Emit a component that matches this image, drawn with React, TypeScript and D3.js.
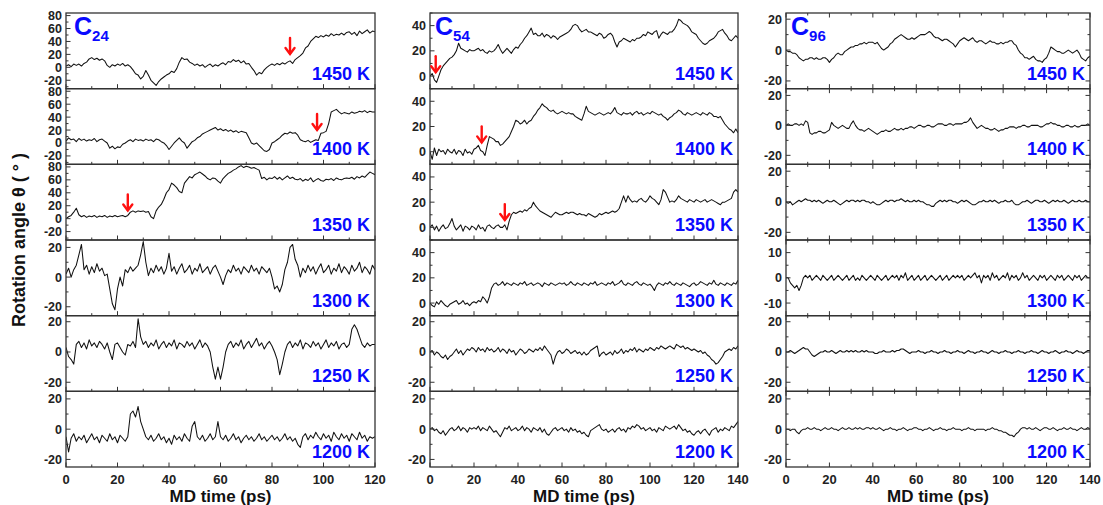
import React from 'react';
import * as d3 from 'd3';

const W = 1103;
const H = 505;
const TOP = 13;
const BOTTOM = 467;
const NROWS = 6;
const FONT = '"Liberation Sans", Arial, Helvetica, sans-serif';

const temps = ['1450 K', '1400 K', '1350 K', '1300 K', '1250 K', '1200 K'];
const xTicks120 = [0, 20, 40, 60, 80, 100, 120];
const xTicks140 = [0, 20, 40, 60, 80, 100, 120, 140];

// Rotation angle (deg) sampled every 1 ps — C24 cluster
const c24_1450 = [
  2, 4, 1, 5, 3, 5, 2, 6, 8, 13,
  15, 12, 14, 11, 13, 10, 3, 0, 4, 2,
  5, 3, 6, 2, 4, 1, -4, -10, -12, -18,
  -14, -5, -12, -20, -24, -28, -22, -18, -15, -12,
  -10, -6, -8, -2, 8, 15, 12, 13, 8, 6,
  3, 5, 2, 4, 0, 3, 5, 1, 4, 2,
  5, 7, 4, 9, 8, 12, 9, 11, 7, 10,
  5, 6, 0, -5, -12, -8, -10, -4, 0, 3,
  5, 3, 6, 4, 7, 5, 8, 10, 6, 12,
  15, 18, 22, 30, 33, 40, 44, 48, 46, 49,
  47, 50, 48, 52, 49, 51, 50, 53, 50, 54,
  55, 51, 54, 49, 56, 52, 55, 58, 53, 56,
  55,
];
const c24_1400 = [
  3, 8, 5, 6, 2, 7, 4, 6, 3, 5,
  4, 7, 2, 5, 6, 3, 0, -8, -5, -9,
  -6, -7, -2, 0, 3, 5, 2, 6, 4, 5,
  3, 6, 4, 5, 2, 6, 5, 2, 0, -4,
  -10, -5, 0, 4, 8, 3, 0, -8, -3, 2,
  4, 8, 10, 14, 16, 18, 20, 22, 24, 20,
  22, 19, 21, 18, 20, 17, 19, 16, 18, 17,
  16, 8, 0, -2, 0, -4, -8, -12, -13, -10,
  0, 2, 5, 8, 12, 15, 14, 17, 15, 16,
  12, 5, 3, 2, 4, 1, 3, 5, 4, 15,
  16, 18, 30, 48, 50, 52, 48, 45, 47, 46,
  45, 48, 46, 47, 49, 48, 50, 47, 49, 48,
  48,
];
const c24_1350 = [
  0, 3, 5, 10, 16, 6, 3, 5, 2, 4,
  3, 5, 2, 4, 3, 5, 2, 4, 3, 5,
  3, 4, 5, 3, 5, 10, 12, 10, 12, 11,
  12, 10, 11, 3, 0, 12, 18, 22, 30, 40,
  45, 55, 52, 48, 42, 40, 55, 60, 65, 63,
  68, 70, 72, 69, 66, 62, 60, 63, 62, 58,
  55, 62, 66, 70, 72, 75, 77, 80, 82, 79,
  81, 80, 78, 79, 77, 75, 62, 64, 60, 63,
  62, 65, 61, 64, 60, 63, 66, 62, 64, 61,
  60, 62, 58, 61, 59, 63, 57, 60, 62, 59,
  58, 61, 60, 62, 59, 63, 61, 60, 62, 63,
  62, 64, 61, 65, 63, 66, 64, 68, 72, 70,
  68,
];
const c24_1300 = [
  2, 6, 0, 5, 8, 15, 22, 5, 8, 2,
  7, 3, 9, 4, 6, 1, 2, -8, -18, -22,
  -8, 0, -6, 5, 3, 7, 4, 6, 8, 15,
  24, 10, 1, 6, 3, 8, 4, 7, 2, 6,
  16, 4, 7, 2, 6, 9, 3, 5, 8, 2,
  6, 4, 9, 3, 5, 7, 2, 6, 8, 4,
  0, -5, 1, 5, 3, 8, 4, 6, 2, 7,
  5, 3, 8, 4, 6, 2, 7, 5, 3, 6,
  0, -8, -6, -10, -5, 5, 10, 20, 22, 12,
  8, 0, 6, 3, 8, 4, 7, 2, 6, 9,
  3, 5, 8, 2, 6, 4, 9, 3, 7, 5,
  2, 8, 4, 6, 10, 3, 7, 5, 2, 8,
  5,
];
const c24_1250 = [
  3, -3, -5, -8, 5, 7, 3, 6, 2, 8,
  4, 6, 3, 7, 5, 2, 6, 0, -5, 5,
  6, 3, 0, -2, 5, 4, 7, 3, 22, 10,
  5, 7, 3, 6, 4, 8, 2, 5, 7, 3,
  6, 4, 8, 2, 6, 5, 3, 7, 4, 6,
  2, 5, 8, 3, 6, 4, 0, -10, -18, -10,
  -18, -10, 0, 5, 7, 3, 6, 4, 8, 2,
  5, 7, 3, 6, 9, 4, 6, 2, 5, 7,
  4, 0, -5, -15, -8, 0, 5, 7, 3, 6,
  4, 8, 2, 6, 5, 3, 7, 4, 6, 2,
  5, 8, 3, 6, 4, 7, 2, 5, 6, 3,
  5, 15, 18, 15, 10, 5, 3, 6, 4, 5,
  5,
];
const c24_1200 = [
  -5, -15, -6, -3, -8, -5, -7, -4, -9, -6,
  -3, -7, -5, -9, -4, -6, -8, -3, -7, -5,
  -9, -4, -6, -8, -5, 10, 12, 8, 15, 5,
  0, -5, -7, -4, -8, -6, -3, -7, -5, -9,
  -6, -10, -4, -7, -5, -8, -3, -6, -8, 2,
  5, -5, -7, -4, -8, -6, -3, -7, -5, 5,
  -5, -7, -4, -8, -6, -3, -7, -5, -9, -6,
  -4, -7, -5, -8, -6, -3, -7, -5, -8, -6,
  -4, -7, -5, -8, -6, -3, -7, -5, -8, -6,
  -10, -12, -5, -3, -7, -4, -6, -2, -5, -7,
  -3, -6, -4, -8, -2, -5, -7, -3, -6, -4,
  -8, -3, -5, -7, -2, -6, -4, -8, -5, -6,
  -5,
];

// C54 cluster
const c54_1450 = [
  0, 2, -3, -5, 0, 5, 8, 10, 12, 14,
  15, 17, 20, 26, 22, 21, 20, 19, 21, 20,
  20, 21, 22, 20, 21, 19, 18, 20, 19, 20,
  22, 25, 21, 18, 20, 22, 20, 18, 21, 23,
  22, 25, 27, 30, 32, 35, 38, 33, 34, 32,
  32, 34, 31, 33, 32, 30, 32, 31, 29, 31,
  32, 33, 34, 35, 37, 40, 41, 40, 37, 35,
  36, 37, 35, 35, 34, 33, 32, 34, 33, 30,
  31, 33, 34, 32, 27, 23, 27, 28, 30, 29,
  28, 27, 29, 28, 30, 30, 31, 33, 32, 35,
  34, 33, 35, 36, 30, 33, 35, 34, 33, 35,
  35, 37, 40, 45, 44, 42, 41, 40, 38, 35,
  34, 33, 30, 28, 26, 25, 26, 28, 29, 30,
  32, 35, 36, 37, 34, 32, 29, 28, 30, 32,
  30,
];
const c54_1400 = [
  0, -6, 3, -3, 2, 0, 1, -2, 2, 0,
  -1, 2, -2, 1, 0, -3, 2, -1, 0, -2,
  2, 3, 5, 1, 0, -3, 5, 12, 11, 10,
  8, 8, 5, 6, 8, 10, 12, 16, 20, 25,
  24, 22, 23, 25, 22, 24, 25, 28, 30, 33,
  35, 38, 36, 35, 33, 32, 33, 31, 30, 31,
  32, 31, 30, 31, 30, 30, 28, 27, 26, 25,
  30, 36, 32, 31, 30, 29, 30, 31, 30, 29,
  30, 31, 30, 32, 35, 31, 30, 29, 31, 30,
  30, 31, 29, 31, 32, 30, 31, 29, 30, 31,
  30, 32, 31, 30, 29, 30, 28, 27, 25, 27,
  28, 30, 31, 33, 32, 30, 29, 31, 30, 29,
  30, 31, 30, 29, 31, 30, 29, 31, 30, 28,
  28, 27, 28, 25, 22, 20, 18, 17, 15, 18,
  15,
];
const c54_1350 = [
  0, 2, -2, 1, -3, 0, 2, -1, 0, 3,
  7, 1, -2, 0, 2, -3, 1, 0, -2, 1,
  0, -2, 2, -1, 0, -3, 1, 2, 0, -1,
  1, 2, 0, 0, 2, -2, 5, 10, 12, 11,
  12, 13, 12, 14, 13, 15, 16, 20, 17, 15,
  13, 12, 11, 10, 9, 8, 10, 12, 11, 10,
  10, 11, 12, 11, 12, 12, 11, 10, 11, 10,
  10, 9, 11, 10, 9, 8, 9, 11, 10, 11,
  12, 11, 12, 13, 12, 13, 15, 20, 25, 20,
  25, 22, 20, 21, 20, 22, 23, 21, 20, 22,
  25, 23, 22, 20, 18, 22, 30, 28, 24, 20,
  21, 20, 22, 25, 23, 22, 21, 20, 22, 21,
  20, 22, 21, 20, 21, 22, 20, 21, 22, 21,
  20, 19, 18, 20, 20, 21, 22, 23, 28, 30,
  28,
];
const c54_1300 = [
  0, -2, -3, 1, -1, 2, 0, -2, -3, -1,
  0, 1, 2, -1, 0, 2, -1, 0, -2, 0,
  1, 0, 2, 1, 5, 3, 0, 5, 12, 15,
  16, 14, 15, 17, 14, 16, 15, 14, 16, 15,
  14, 16, 15, 17, 14, 15, 16, 14, 15, 16,
  15, 13, 16, 15, 14, 16, 15, 14, 15, 16,
  15, 16, 14, 15, 17, 15, 14, 16, 15, 14,
  16, 15, 14, 16, 15, 17, 14, 15, 16, 15,
  14, 16, 15, 17, 14, 15, 16, 18, 15, 14,
  16, 15, 14, 16, 17, 15, 14, 16, 15, 14,
  15, 13, 10, 14, 16, 15, 14, 16, 15, 17,
  15, 14, 16, 15, 14, 16, 15, 14, 13, 15,
  16, 14, 15, 17, 16, 15, 14, 16, 15, 18,
  15, 14, 16, 15, 14, 16, 15, 14, 16, 15,
  18,
];
const c54_1250 = [
  0, 1, -2, 0, -1, -3, -4, -2, -5, -3,
  -2, 0, 2, -1, 1, -2, 0, 2, 1, 3,
  2, 0, 3, 1, 2, 0, 3, 1, 2, 0,
  1, 3, 0, 2, 1, -1, 2, 0, 1, -2,
  0, 2, 1, -1, 0, 2, 1, 0, 2, 1,
  3, 1, 4, 2, 0, -2, -8, -3, 0, 1,
  -1, 0, 2, 1, -1, 0, 1, -1, 0, -2,
  0, -2, -1, 1, 2, 3, 4, -3, -1, 0,
  -2, -1, 0, -2, 1, -1, 0, 2, -1, 1,
  0, 2, 1, 3, 0, 2, 1, 0, 2, 1,
  3, 2, 1, 3, 2, 4, 3, 2, 3, 4,
  3, 2, 5, 4, 3, 4, 2, 3, 2, 1,
  2, 1, 0, 1, -1, 0, -2, -3, -5, -6,
  -8, -7, -5, -3, 0, 1, 2, 1, 3, 2,
  4,
];
const c54_1200 = [
  0, 1, -1, 0, -2, -3, -1, -4, -2, 0,
  1, -1, 0, 2, -1, 1, 0, -2, 1, 0,
  1, 0, 2, -1, 1, 0, -1, 2, 0, -2,
  -1, -3, -5, -2, 1, 0, 2, -1, 0, 1,
  -1, 0, 2, -1, 1, 0, -2, 1, 0, -1,
  1, -2, 0, -3, -4, -2, 0, 1, -1, 0,
  1, -1, 0, -2, 1, -1, 0, -2, -1, -3,
  -2, -4, -5, -1, 0, 1, 2, 3, 0, -1,
  0, -2, -1, 0, -2, 0, 1, -1, 0, -2,
  1, 0, 2, 1, 3, 2, 0, 1, -1, 0,
  1, -1, 0, -2, 1, 0, -1, 2, 1, 0,
  1, 2, 0, 3, 1, -1, 0, -2, -1, -3,
  -4, -2, -1, -3, -1, 0, -2, -4, -1, 0,
  1, -2, 0, -1, 1, 0, -1, 2, 1, 3,
  5,
];

// C96 cluster
const c96_1450 = [
  0, -1, -1, -2, -2, -3, -5, -6, -7, -6,
  -6, -5, -5, -6, -5, -6, -6, -5, -5, -6,
  -8, -6, -5, -3, -2, -3, -3, -1, 0, 1,
  2, 2, 3, 3, 4, 4, 5, 4, 5, 5,
  5, 4, 5, 3, 1, 0, 1, 2, 4, 5,
  7, 8, 9, 10, 9, 8, 7, 7, 8, 7,
  8, 9, 10, 10, 10, 11, 12, 11, 9, 8,
  8, 7, 6, 7, 7, 6, 5, 4, 2, 4,
  6, 7, 8, 7, 6, 7, 8, 6, 5, 6,
  6, 5, 4, 5, 6, 5, 5, 4, 4, 5,
  4, 5, 5, 6, 6, 4, 3, 0, -2, -3,
  -5, -5, -6, -5, -4, -6, -7, -7, -8, -6,
  -5, -2, 2, 1, 0, -1, -1, -2, -2, -1,
  0, -1, -2, -1, 0, -2, -5, -6, -7, -5,
  -4,
];
const c96_1400 = [
  0, 1, 0, 0, 1, 1, 0, 1, 0, 3,
  2, -5, -6, -5, -5, -4, -4, -5, -5, -4,
  -3, 2, 0, -1, -2, -1, 0, -1, -2, -2,
  1, 3, 0, -2, -3, -3, -4, -3, -2, -3,
  -4, -5, -6, -5, -4, -4, -3, -4, -4, -3,
  -2, -3, -3, -2, -3, -2, -2, -1, -1, -2,
  -1, 0, 0, -1, -1, 0, 0, -1, -1, 0,
  1, 1, 1, 0, 0, 1, 1, 0, 1, 1,
  1, 1, 2, 2, 3, 5, 2, 0, -2, -1,
  0, -1, -2, -2, -3, -3, -2, -3, -4, -3,
  -3, -2, -2, -1, -1, -1, -2, -1, -1, 0,
  0, -1, -1, 0, 0, 0, 0, -1, -1, 0,
  1, 1, 2, 1, 1, 0, 0, -1, -1, 0,
  0, -1, -1, 0, -1, -1, 0, 0, 0, 1,
  0,
];
const c96_1350 = [
  0, -1, 0, -2, -1, 0, 1, 0, 1, 2,
  1, 1, 0, 1, 0, 1, 0, -1, 0, 1,
  0, 0, 1, 0, -1, -2, -1, 0, 1, 0,
  1, 1, 0, 1, 0, 1, 1, 0, 0, -1,
  0, -1, -2, -2, -1, 0, 1, 0, 1, 1,
  0, 1, 1, 2, 1, 0, 1, 0, 0, 1,
  0, 1, 0, 0, -1, -2, -2, -3, -3, -1,
  0, 1, 0, 1, 0, 1, 1, 0, 0, -1,
  0, 1, 0, 1, 0, -1, -2, -2, -1, 0,
  0, 1, 0, 0, 1, 0, 1, 0, -1, 0,
  0, 1, 0, 0, 1, -1, -2, -2, -1, 0,
  0, 1, 0, -1, 0, 1, 1, 0, 0, 1,
  0, -1, 0, 1, 0, 1, 0, 0, 1, 0,
  -1, 0, 1, 0, 0, 1, 0, 0, 1, 0,
  0,
];
const c96_1300 = [
  0, 0, -2, -3, -4, -3, -5, -3, 0, 1,
  0, 1, -1, 0, 1, 0, -1, 1, 0, -1,
  0, 1, -1, 0, 1, 0, -1, 0, 1, -1,
  0, 1, -1, 0, -1, 1, 0, -1, 0, 1,
  0, -1, 1, 0, -1, 0, 1, -1, 0, 1,
  0, 1, -1, 1, 0, 2, -1, 0, 1, -1,
  0, 1, -1, 0, 1, -1, 0, 1, 0, -1,
  0, 1, -1, 0, 1, -1, 0, 1, 0, 1,
  0, 1, -1, 0, 1, 0, 1, 2, 0, 1,
  -2, 1, 0, 1, -1, 2, 0, 1, -1, 0,
  1, 0, 2, -1, 1, 0, 1, -1, 0, 2,
  0, 1, -1, 0, 1, 0, -1, 1, 0, 1,
  -1, 0, 1, 0, -1, 1, 0, 1, -1, 0,
  1, 0, -1, 1, 0, 1, -1, 0, 1, 0,
  0,
];
const c96_1250 = [
  0, 0, 1, 0, -1, 0, 1, 2, 3, 2,
  2, 0, -2, -3, -2, -1, 0, 0, 1, 0,
  0, 1, 0, -1, 0, 1, 0, 0, 1, 0,
  1, 0, 1, 0, 0, 1, 0, 1, 0, 0,
  0, -1, -1, 0, 0, 1, 0, 0, 0, 1,
  0, 1, 1, 2, 2, 1, 0, -1, 0, 0,
  0, 1, 0, 0, -1, 0, 0, 1, 0, 0,
  -1, 0, 0, 1, 0, 0, -1, 0, 0, 1,
  0, 0, -1, 0, 1, 0, 0, -1, 0, 0,
  1, 0, 0, -1, 0, 1, 0, 0, -1, 0,
  0, 1, 0, 0, -1, 0, 0, 1, 0, 0,
  -1, 0, 0, 1, 0, 0, -1, 0, 1, 0,
  0, -1, 0, 0, 1, 0, -1, 0, 0, 1,
  0, 0, -1, 0, 1, 0, 0, -1, 0, 1,
  1,
];
const c96_1200 = [
  0, 0, -1, 0, 0, -2, -3, -1, 0, 0,
  1, 0, 0, 1, 0, 0, -1, 0, 1, 0,
  0, 1, 0, 0, -1, 0, 1, 0, 0, 1,
  0, 0, 1, 0, 1, 0, 0, 1, 1, 0,
  1, 0, 0, 1, 0, -1, 0, 0, 1, 0,
  0, -1, 0, 0, 1, 0, -1, 0, 0, 1,
  1, 0, 0, -1, 0, 0, 1, 0, -1, 0,
  0, 1, 0, 0, -1, 0, 0, 1, 0, 0,
  0, -1, 0, 0, 1, 0, 0, -1, 0, 0,
  0, 0, -1, 0, 0, 1, 0, 0, -1, -1,
  -2, -2, -3, -4, -4, -5, -3, -2, 0, 1,
  1, 0, 1, 0, 0, 1, 0, -1, 0, 1,
  1, 0, 0, 1, 0, -1, 0, 0, 1, 0,
  0, 1, 0, 0, -1, 0, 1, 0, 0, 1,
  0,
];

type Col = {
  sub: string;
  x0: number;
  x1: number;
  xMax: number;
  xTicks: number[];
  mirror: boolean;
  series: number[][];
  domains: [number, number][];
  yTicks: number[][];
};

const T80 = [-20, 0, 20, 40, 60, 80];
const T20 = [-20, 0, 20];
const T40 = [0, 20, 40];
const T10 = [-10, 0, 10];

const columns: Col[] = [
  {
    sub: '24', x0: 66, x1: 375, xMax: 120, xTicks: xTicks120, mirror: false,
    series: [c24_1450, c24_1400, c24_1350, c24_1300, c24_1250, c24_1200],
    domains: [[-33, 84], [-33, 84], [-33, 84], [-26, 25], [-26, 24], [-25, 25]],
    yTicks: [T80, T80, T80, T20, T20, T20],
  },
  {
    sub: '54', x0: 430, x1: 738, xMax: 140, xTicks: xTicks140, mirror: false,
    series: [c54_1450, c54_1400, c54_1350, c54_1300, c54_1250, c54_1200],
    domains: [[-10, 50], [-10, 50], [-10, 50], [-10, 50], [-26, 24], [-25, 25]],
    yTicks: [T40, T40, T40, T40, T20, T20],
  },
  {
    sub: '96', x0: 786, x1: 1090, xMax: 140, xTicks: xTicks140, mirror: true,
    series: [c96_1450, c96_1400, c96_1350, c96_1300, c96_1250, c96_1200],
    domains: [[-25, 24], [-26, 24.5], [-25, 24.5], [-15, 15], [-26, 24], [-25, 25]],
    yTicks: [T20, T20, T20, T10, T20, T20],
  },
];

// Transition markers: [column, row, time (ps), angle at arrow tip (deg)]
const arrows: [number, number, number, number][] = [
  [0, 0, 87, 19],
  [0, 1, 97.5, 18.5],
  [0, 2, 24, 11],
  [1, 0, 2.6, 2.2],
  [1, 1, 23.5, 6.6],
  [1, 2, 34, 5],
];

const AXIS = '#333';
const BLUE = '#0a0aff';

export default function App() {
  const rowH = (BOTTOM - TOP) / NROWS;

  return (
    <svg
      width={W}
      height={H}
      viewBox={`0 0 ${W} ${H}`}
      style={{ position: 'absolute', left: 0, top: 0, background: '#fff' }}
      fontFamily={FONT}
    >
      <defs>
        {columns.map((c, ci) =>
          c.series.map((_, ri) => (
            <clipPath id={`clip-${ci}-${ri}`} key={`${ci}-${ri}`}>
              <rect x={c.x0} y={TOP + ri * rowH} width={c.x1 - c.x0} height={rowH} />
            </clipPath>
          ))
        )}
      </defs>

      {columns.map((c, ci) => {
        const x = d3.scaleLinear().domain([0, c.xMax]).range([c.x0, c.x1]);
        const minorX = d3.range(0, c.xMax + 0.1, 10);
        return (
          <g key={ci}>
            {c.series.map((vals, ri) => {
              const top = TOP + ri * rowH;
              const bot = top + rowH;
              const y = d3.scaleLinear().domain(c.domains[ri]).range([bot, top]);
              const step = c.xMax / (vals.length - 1);
              const line = d3
                .line<number>()
                .x((_, i) => x(i * step))
                .y((d) => y(d));
              const ticks = c.yTicks[ri];
              const dT = ticks[1] - ticks[0];
              const minorY = d3
                .range(ticks[0] - dT / 2, ticks[ticks.length - 1] + dT, dT / 2)
                .filter((v) => v >= c.domains[ri][0] && v <= c.domains[ri][1]);
              return (
                <g key={ri}>
                  <path
                    d={line(vals) || ''}
                    fill="none"
                    stroke="#111"
                    strokeWidth={1.05}
                    strokeLinejoin="round"
                    clipPath={`url(#clip-${ci}-${ri})`}
                  />
                  {/* x ticks on the bottom edge (and top edge when mirrored) */}
                  {minorX.map((t) => {
                    const len = t % 20 === 0 ? 4.5 : 2.5;
                    return (
                      <g key={`xt${t}`}>
                        <line x1={x(t)} x2={x(t)} y1={bot} y2={bot - len} stroke={AXIS} strokeWidth={1} />
                        {c.mirror && (
                          <line x1={x(t)} x2={x(t)} y1={top} y2={top + len} stroke={AXIS} strokeWidth={1} />
                        )}
                      </g>
                    );
                  })}
                  {/* y ticks */}
                  {minorY.map((v) => {
                    const major = ticks.includes(v);
                    const len = major ? 4.5 : 2.5;
                    return (
                      <g key={`yt${v}`}>
                        <line x1={c.x0} x2={c.x0 + len} y1={y(v)} y2={y(v)} stroke={AXIS} strokeWidth={1} />
                        {c.mirror && (
                          <line x1={c.x1} x2={c.x1 - len} y1={y(v)} y2={y(v)} stroke={AXIS} strokeWidth={1} />
                        )}
                      </g>
                    );
                  })}
                  {ticks.map((v) => (
                    <text
                      key={`yl${v}`}
                      x={c.x0 - 4}
                      y={y(v)}
                      dy="0.36em"
                      textAnchor="end"
                      fontSize={12.5}
                      fontWeight="bold"
                      fill="#222"
                    >
                      {v}
                    </text>
                  ))}
                  <rect
                    x={c.x0}
                    y={top}
                    width={c.x1 - c.x0}
                    height={rowH}
                    fill="none"
                    stroke={AXIS}
                    strokeWidth={1.3}
                  />
                  <text
                    x={c.x1 - 5}
                    y={bot - 9}
                    textAnchor="end"
                    fontSize={18}
                    fontWeight="bold"
                    fill={BLUE}
                  >
                    {temps[ri]}
                  </text>
                  {arrows
                    .filter((a) => a[0] === ci && a[1] === ri)
                    .map((a, k) => {
                      const ax = x(a[2]);
                      const ay = y(a[3]);
                      return (
                        <g key={`ar${k}`} stroke="#ff1010" strokeWidth={2.4} fill="none" strokeLinecap="round">
                          <line x1={ax} x2={ax} y1={ay - 17} y2={ay - 1.5} />
                          <polyline points={`${ax - 4.5},${ay - 7} ${ax},${ay - 1} ${ax + 4.5},${ay - 7}`} />
                        </g>
                      );
                    })}
                </g>
              );
            })}
            {/* cluster label */}
            <text x={c.x0 + (ci === 0 ? 8 : 5)} y={TOP + 22} fontSize={25} fontWeight="bold" fill={BLUE}>
              C
              <tspan fontSize={15} dy={6}>
                {c.sub}
              </tspan>
            </text>
            {/* x tick labels */}
            {c.xTicks.map((t) => (
              <text
                key={`xl${t}`}
                x={x(t)}
                y={BOTTOM + 17}
                textAnchor="middle"
                fontSize={13}
                fontWeight="bold"
                fill="#222"
              >
                {t}
              </text>
            ))}
            <text
              x={(c.x0 + c.x1) / 2}
              y={BOTTOM + 35}
              textAnchor="middle"
              fontSize={17}
              fontWeight="bold"
              fill="#111"
            >
              MD time (ps)
            </text>
          </g>
        );
      })}

      <text
        transform={`translate(25, 240) rotate(-90)`}
        textAnchor="middle"
        fontSize={18}
        fontWeight="bold"
        fill="#111"
      >
        Rotation angle θ ( ° )
      </text>
    </svg>
  );
}
